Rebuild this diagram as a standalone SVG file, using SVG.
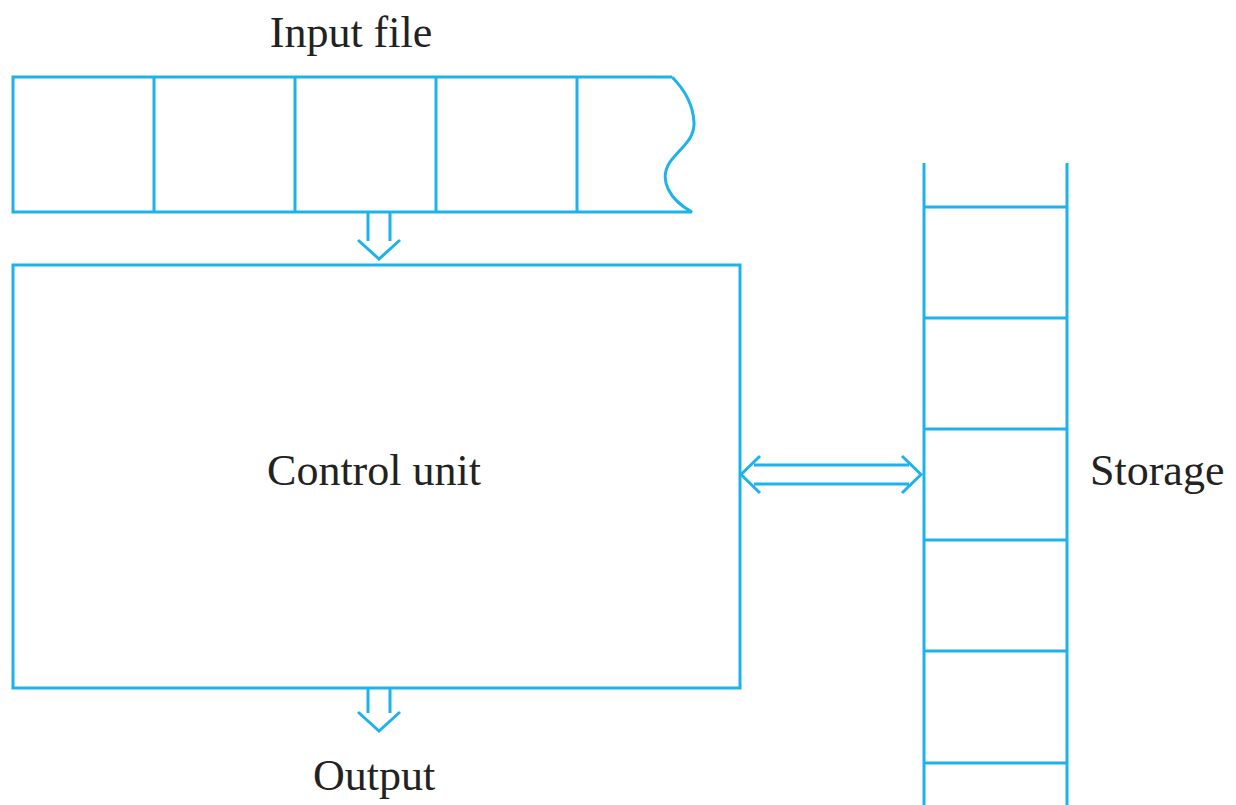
<svg xmlns="http://www.w3.org/2000/svg" width="1236" height="805" viewBox="0 0 1236 805">
<style>
.s{fill:none;stroke:#1db2ea;stroke-width:3;stroke-linejoin:miter;stroke-linecap:butt}
.t{font-family:"Liberation Serif",serif;font-size:44px;fill:#222}
</style>
<rect width="1236" height="805" fill="#fff"/>
<g id="input-file">
<path class="s" d="M672,77 H13 V212 H692 C670,200 658,180 670,162 C680,148 695,140 694,122 C693,105 685,90 672,77"/>
<path class="s" d="M154,77 V212 M295,77 V212 M436,77 V212 M577,77 V212"/>
<text class="t" x="351" y="47" text-anchor="middle">Input file</text>
</g>
<g id="control-unit">
<rect class="s" x="13" y="265" width="727" height="423"/>
<text class="t" x="374" y="485" text-anchor="middle">Control unit</text>
</g>
<g id="storage">
<path class="s" d="M924,163 V805 M1067,163 V805 M924,207 H1067 M924,318 H1067 M924,429 H1067 M924,540 H1067 M924,651 H1067 M924,763 H1067"/>
<text class="t" x="1090" y="485">Storage</text>
</g>
<g id="output">
<text class="t" x="374" y="790" text-anchor="middle">Output</text>
</g>
<g id="connectors">
<path class="s" d="M368,212 V241 M390,212 V241 M358,240 L379,259 L400,240"/>
<path class="s" d="M368,688 V713 M390,688 V713 M358,712 L379,731 L400,712"/>
<path class="s" d="M754,465 H909 M754,484 H909 M760,456 L741,474.5 L760,493 M902,456 L921,474.5 L902,493"/>
</g>
</svg>
